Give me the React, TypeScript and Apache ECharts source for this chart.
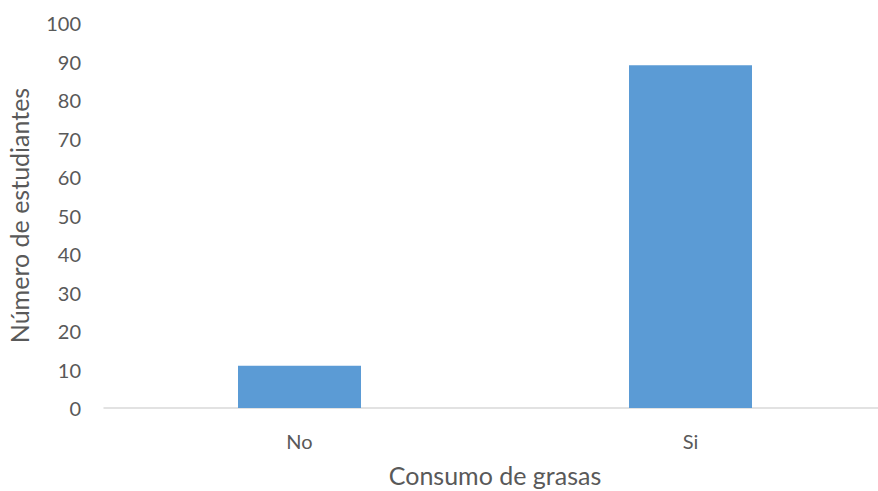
import React, { useEffect, useRef } from "react";
import * as echarts from "echarts";

const categories = ["No", "Si"];
const values = [11, 89];
const yTicks = { min: 0, max: 100, interval: 10 };

export default function App() {
  const ref = useRef<HTMLDivElement>(null);
  useEffect(() => {
    if (!ref.current) return;
    const chart = echarts.init(ref.current, undefined, { renderer: "svg" });
    const font = "Lato, 'Open Sans', sans-serif";
    chart.setOption({
      animation: false,
      backgroundColor: "#ffffff",
      grid: {
        left: 104,
        right: 0,
        top: 23,
        bottom: 83,
        containLabel: false,
        outerBoundsMode: "none",
      },
      xAxis: {
        type: "category",
        data: categories,
        axisLine: { show: true, lineStyle: { color: "#d9d9d9", width: 1.5 } },
        axisTick: { show: false },
        axisLabel: { color: "#595959", fontSize: 20, fontFamily: font, margin: 23 },
        name: "Consumo de grasas",
        nameLocation: "middle",
        nameGap: 54,
        nameTextStyle: { color: "#595959", fontSize: 25, fontFamily: font },
      },
      yAxis: {
        type: "value",
        min: yTicks.min,
        max: yTicks.max,
        interval: yTicks.interval,
        splitLine: { show: false },
        axisLine: { show: false },
        axisTick: { show: false },
        axisLabel: { color: "#595959", fontSize: 20, fontFamily: font, margin: 23 },
        name: "Número de estudiantes",
        nameLocation: "middle",
        nameGap: 73,
        nameTextStyle: { color: "#595959", fontSize: 25, fontFamily: font },
      },
      series: [
        {
          type: "bar",
          data: values,
          barWidth: 123,
          itemStyle: { color: "#5b9bd5" },
        },
      ],
    });
    return () => chart.dispose();
  }, []);
  return (
    <div
      style={{
        position: "absolute",
        left: 0,
        top: 0,
        width: 878,
        height: 491,
        overflow: "hidden",
      }}
    >
      <div ref={ref} style={{ width: 886, height: 491 }} />
    </div>
  );
}
